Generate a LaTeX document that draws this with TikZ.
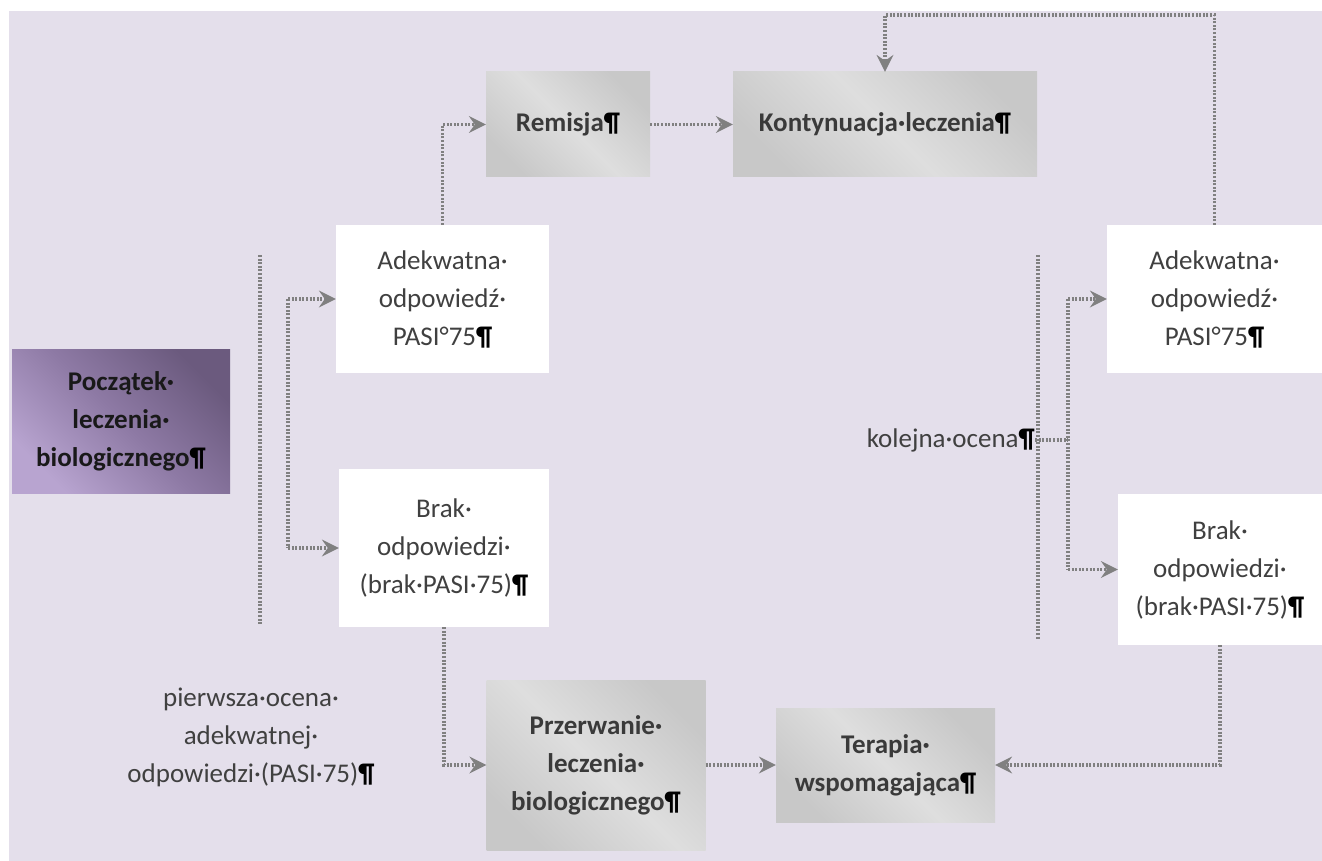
\documentclass[tikz,border=0pt]{standalone}
\usepackage{fontspec}
\setmainfont{Carlito}
\usetikzlibrary{arrows.meta}
\definecolor{bg}{HTML}{E4DFEB}
\definecolor{linegray}{HTML}{808080}
\definecolor{txtgray}{HTML}{404040}
\definecolor{boxtxt}{HTML}{3A3A3A}
\definecolor{grayD}{HTML}{C8C8C8}
\definecolor{grayL}{HTML}{DEDEDE}
\definecolor{purD}{HTML}{6B5A7E}
\definecolor{purM}{HTML}{8E7AA5}
\definecolor{purL}{HTML}{B8A4D0}
\newcommand\mypil{\textcolor{black}{\textbf{¶}}}
\tikzset{
  txt/.style={font=\fontsize{27}{38}\selectfont, text=txtgray, align=center, inner sep=0pt},
  btxt/.style={font=\bfseries\fontsize{27}{38}\selectfont, text=boxtxt, align=center, inner sep=0pt},
  whitebox/.style={txt, fill=white},
  graybox/.style={btxt, top color=grayD, bottom color=grayD, middle color=grayL, shading angle=-45},
  purbox/.style={btxt, text=black!90, top color=purD, bottom color=purL, middle color=purM, shading angle=-45},
  dotline/.style={draw=linegray, line width=3.2pt, dash pattern=on 2pt off 1.6pt},
  conn/.style={dotline, -{Stealth[length=17pt,width=17pt,inset=6pt,line width=0pt]}},
}
\begin{document}
\begin{tikzpicture}[x=1pt,y=-1pt]
\useasboundingbox (0,0) rectangle (1322,861);
\fill[bg] (9,11) rectangle (1322,861);

% boxes
\node[purbox, minimum width=218pt, minimum height=144pt] (start) at (121,421) {Początek·\\leczenia·\\biologicznego\mypil};
\node[whitebox, minimum width=213pt, minimum height=148pt] (adL) at (442.5,299) {Adekwatna·\\odpowiedź·\\PASI°75\mypil};
\node[whitebox, minimum width=210pt, minimum height=158pt] (brL) at (444,548) {Brak·\\odpowiedzi·\\(brak·PASI·75)\mypil};
\node[graybox, minimum width=164pt, minimum height=105pt] (rem) at (568,124.5) {Remisja\mypil};
\node[graybox, minimum width=304pt, minimum height=105pt] (kont) at (885,124.5) {Kontynuacja·leczenia\mypil};
\node[whitebox, minimum width=215pt, minimum height=148pt] (adR) at (1214.5,299) {Adekwatna·\\odpowiedź·\\PASI°75\mypil};
\node[whitebox, minimum width=204pt, minimum height=151pt] (brR) at (1220,569.5) {Brak·\\odpowiedzi·\\(brak·PASI·75)\mypil};
\node[graybox, minimum width=219pt, minimum height=170pt] (przer) at (596,765) {Przerwanie·\\leczenia·\\biologicznego\mypil};
\node[graybox, minimum width=219pt, minimum height=114pt] (ter) at (885.5,765) {Terapia·\\wspomagająca\mypil};

% free texts
\node[txt] (pier) at (251,737) {pierwsza·ocena·\\adekwatnej·\\odpowiedzi·(PASI·75)\mypil};
\node[txt, anchor=east] (kol) at (1035,440) {kolejna·ocena\mypil};

% left bracket
\coordinate (bL1) at (260,255);
\coordinate (bL2) at (260,625);
\draw[dotline] (bL1) -- (bL2);
\coordinate (fL1) at (288,299);
\coordinate (fL2) at (288,548);
\draw[dotline] (fL1) -- (fL2);
\draw[conn] (fL1) -- (adL.west);
\draw[conn] (fL2) -- (brL.west);

% right bracket
\coordinate (bR1) at (1038,255);
\coordinate (bR2) at (1038,640);
\draw[dotline] (bR1) -- (bR2);
\coordinate (fR0) at (1068,440);
\coordinate (fR1) at (1068,299);
\coordinate (fR2) at (1068,569.5);
\draw[dotline] (kol.east) -- (fR0);
\draw[dotline] (fR1) -- (fR2);
\draw[conn] (fR1) -- (adR.west);
\draw[conn] (fR2) -- (brR.west);

% flow connectors
\draw[conn] (adL.north) |- (rem.west);
\draw[conn] (rem) -- (kont);
\coordinate (loopR) at (1214.5,15);
\draw[conn] (adR.north) -- (loopR) -| (kont.north);
\draw[conn] (brL.south) |- (przer.west);
\draw[conn] (przer) -- (ter);
\draw[conn] (brR.south) |- (ter.east);
\end{tikzpicture}
\end{document}
